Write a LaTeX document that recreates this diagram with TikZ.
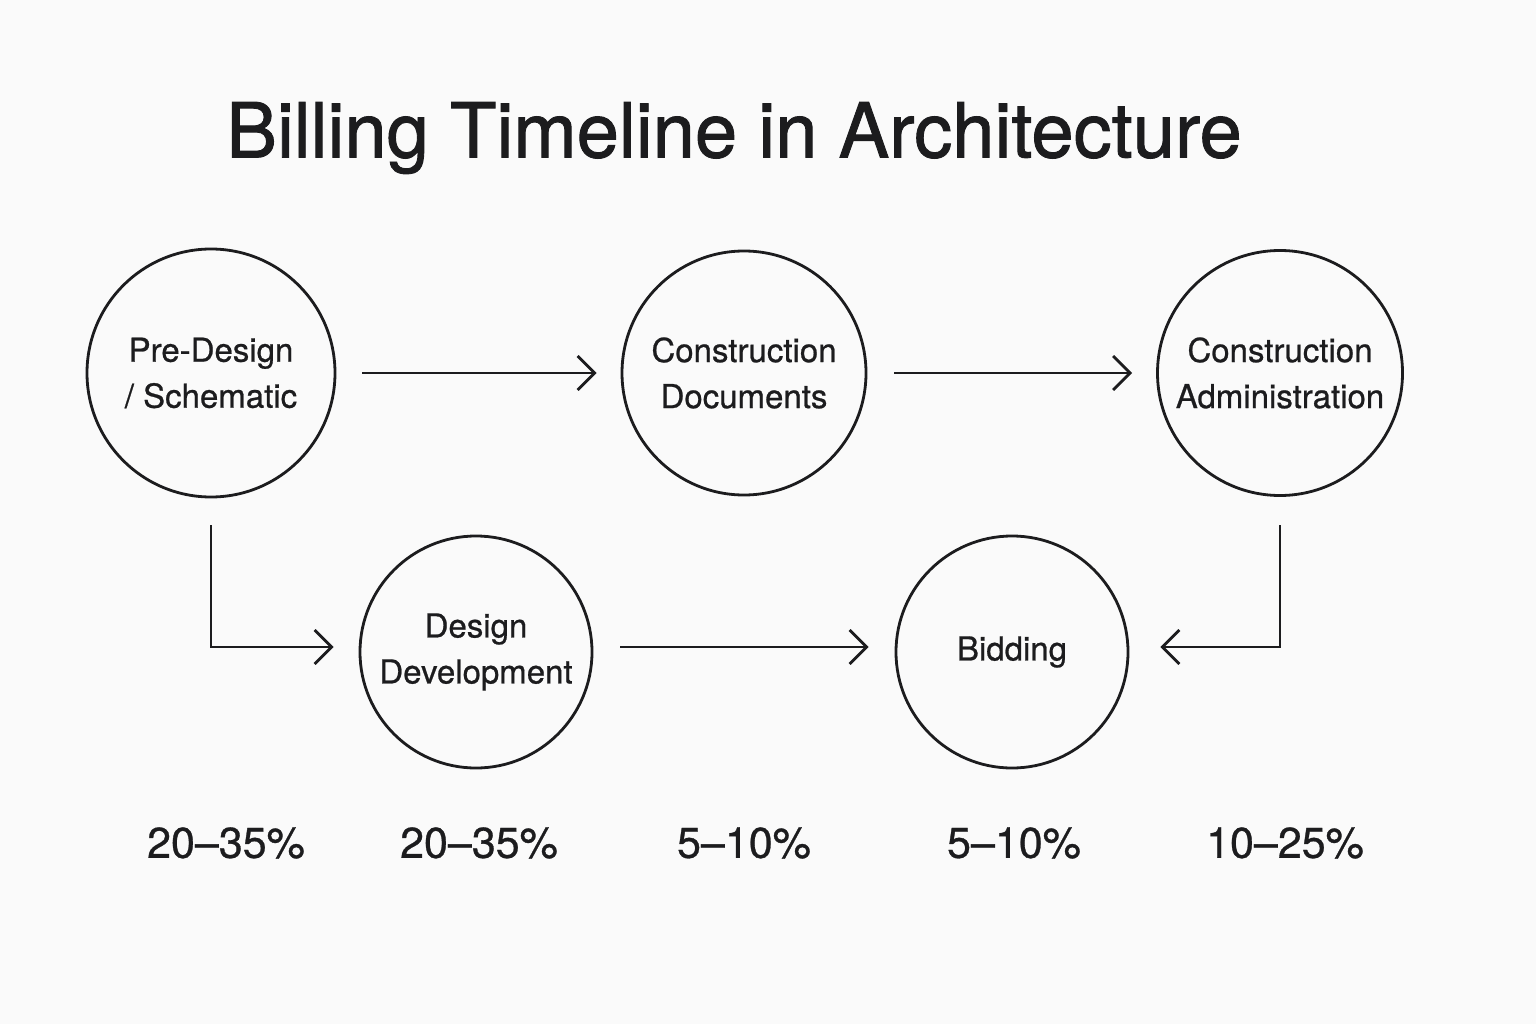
\documentclass[tikz,border=0pt]{standalone}
\usepackage{fontspec}
\setmainfont{TeX Gyre Heros}[FakeBold=0.7]
\newfontfamily\titlefont{TeX Gyre Heros}[FakeBold=1.2]
\usetikzlibrary{arrows.meta}
\definecolor{bg}{HTML}{FAFAFA}
\definecolor{ink}{HTML}{1C1C1E}
\begin{document}
\begin{tikzpicture}[x=1pt,y=-1pt,
  phase/.style={circle,draw=ink,line width=2.8pt,inner sep=0pt,align=center,
    font=\fontsize{33}{46}\selectfont,text=ink},
  flow/.style={draw=ink,line width=2.8pt,-{Straight Barb[length=17pt,width=34pt,line width=2.8pt]}},
  pct/.style={font=\fontsize{43}{50}\selectfont,text=ink},
]
\fill[bg] (0,0) rectangle (1536,1024);
\useasboundingbox (0,0) rectangle (1536,1024);
\node[font=\fontsize{76}{90}\selectfont\titlefont,text=ink] (title) at (734,138) {Billing Timeline in Architecture};
\node[phase,minimum size=248pt] (pre) at (211,373) {Pre-Design\\/ Schematic};
\node[phase,minimum size=244pt] (cd) at (744,373) {Construction\\Documents};
\node[phase,minimum size=245pt] (ca) at (1280,373) {Construction\\Administration};
\node[phase,minimum size=232pt] (dd) at (476,652) {Design\\Development};
\node[phase,minimum size=232pt] (bid) at (1012,652) {Bidding};
\coordinate (c1) at (211,647);
\coordinate (c2) at (1280,647);
\coordinate (s1) at (211,525);
\coordinate (s2) at (1280,525);
\draw[flow] ([xshift=26pt]pre.east) -- ([xshift=-24pt]cd.west);
\draw[flow] ([xshift=27pt]cd.east) -- ([xshift=-24pt]ca.west);
\draw[flow] (s1) -- (c1) -- ([xshift=-25pt]dd.west |- c1);
\draw[flow] ([xshift=27pt]dd.east |- c1) -- ([xshift=-26pt]bid.west |- c1);
\draw[flow] (s2) -- (c2) -- ([xshift=31pt]bid.east |- c2);
\node[pct] (p1) at (226,843) {20–35\%};
\node[pct] (p2) at (479,843) {20–35\%};
\node[pct] (p3) at (744,843) {5–10\%};
\node[pct] (p4) at (1014,843) {5–10\%};
\node[pct] (p5) at (1285,843) {10–25\%};
\end{tikzpicture}
\end{document}
